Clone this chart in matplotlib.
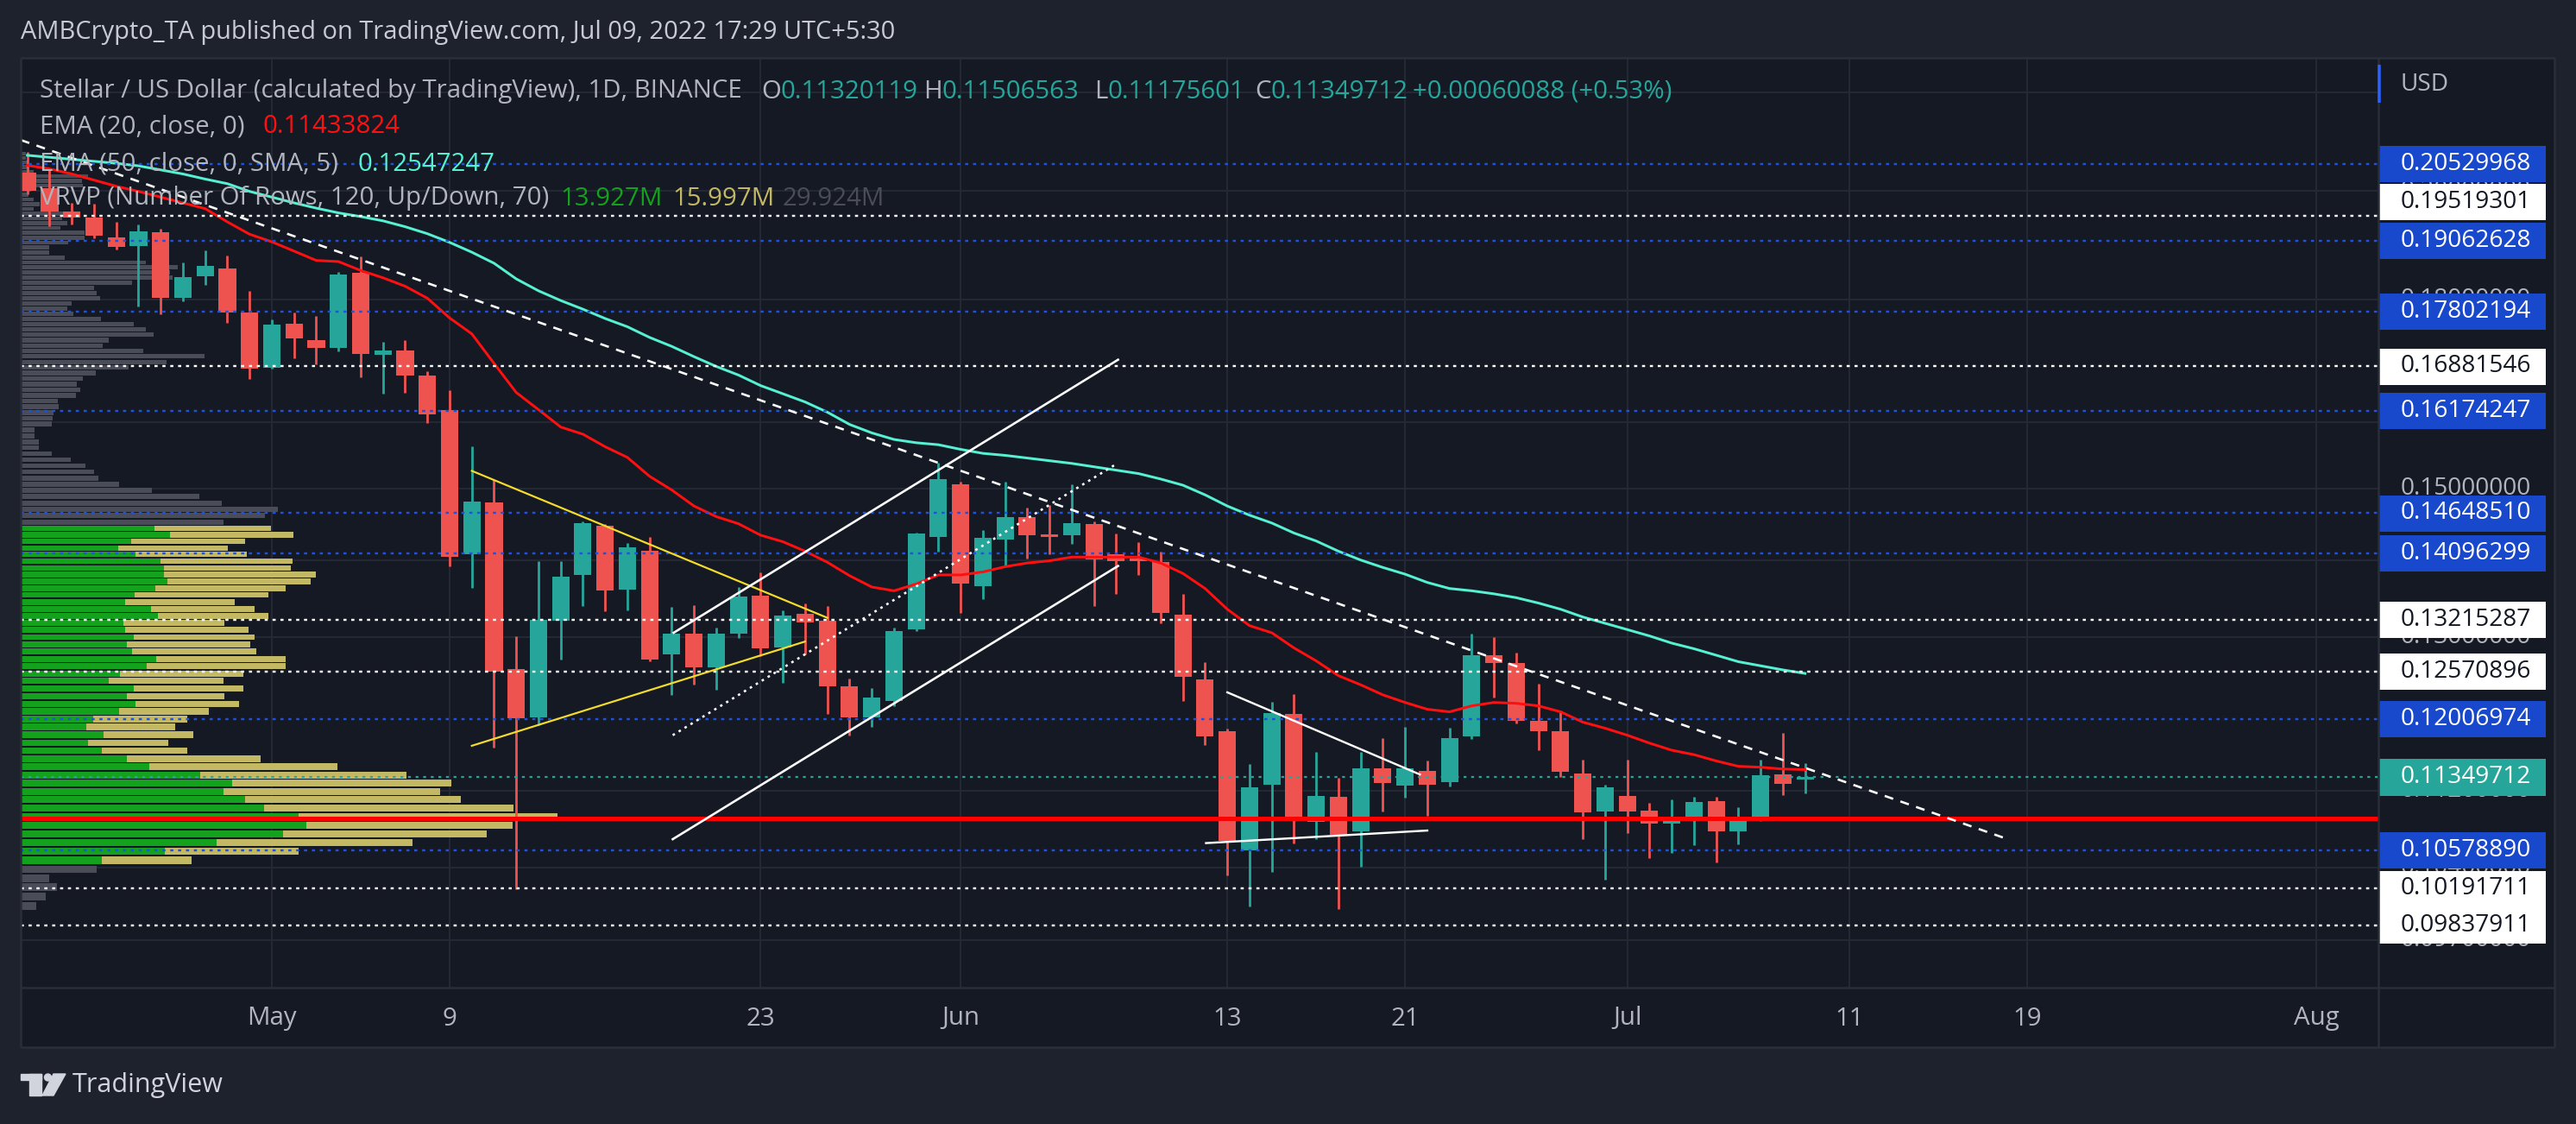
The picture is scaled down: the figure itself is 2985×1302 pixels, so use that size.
import matplotlib
matplotlib.use('Agg')
import matplotlib.pyplot as plt
import matplotlib.dates as mdates
from matplotlib.patches import Rectangle, Circle, Polygon
from matplotlib.transforms import blended_transform_factory
from matplotlib.ticker import FixedLocator, NullLocator
import numpy as np
import pandas as pd

plt.rcParams['font.family'] = ['Open Sans', 'DejaVu Sans']

# ---------------- data ----------------
dates = pd.date_range('2022-04-20', '2022-07-09', freq='D')

opens = [0.2036, 0.2006, 0.1961, 0.1949, 0.1912, 0.1897, 0.1922, 0.1803, 0.1841, 0.1856, 0.1778,
         0.1686, 0.1759, 0.1731, 0.1719, 0.1848, 0.1707, 0.1714, 0.1673, 0.1618, 0.1408, 0.1480,
         0.1260, 0.1203, 0.1320, 0.1380, 0.1447, 0.1360, 0.1412, 0.1278, 0.1304, 0.1262, 0.1304,
         0.1353, 0.1287, 0.1329, 0.1320, 0.1239, 0.1203, 0.1222, 0.1309, 0.1431,
         0.1506, 0.1365, 0.1428, 0.1459, 0.1435, 0.1434, 0.1449, 0.1408, 0.1402, 0.1397, 0.1328,
         0.1248, 0.1187, 0.1058, 0.1127, 0.1207, 0.1087, 0.1114, 0.1077, 0.1145, 0.1126, 0.1142,
         0.1130, 0.1181, 0.1277, 0.1267, 0.1199, 0.1187, 0.1139, 0.1098,
         0.1115, 0.1099, 0.1085, 0.1088, 0.1109, 0.1077, 0.1091, 0.1138, 0.11320119]
highs = [0.2077, 0.2043, 0.1977, 0.1975, 0.1941, 0.1936, 0.1928, 0.1867, 0.1888, 0.1879, 0.1816,
         0.1767, 0.1778, 0.1773, 0.1850, 0.1877, 0.1728, 0.1732, 0.1680, 0.1649, 0.1562, 0.1513,
         0.1301, 0.1398, 0.1399, 0.1453, 0.1449, 0.1423, 0.1431, 0.1338, 0.1340, 0.1311, 0.1364,
         0.1383, 0.1334, 0.1343, 0.1339, 0.1249, 0.1237, 0.1312, 0.1438, 0.1538,
         0.1510, 0.1441, 0.1510, 0.1473, 0.1477, 0.1506, 0.1453, 0.1436, 0.1425, 0.1411, 0.1355,
         0.1268, 0.1190, 0.1150, 0.1221, 0.1230, 0.1163, 0.1134, 0.1163, 0.1179, 0.1192, 0.1153,
         0.1191, 0.1304, 0.1300, 0.1280, 0.1242, 0.1211, 0.1154, 0.1127,
         0.1154, 0.1107, 0.1111, 0.1114, 0.1114, 0.1103, 0.1154, 0.1185, 0.11506563]
lows = [0.1994, 0.1933, 0.1936, 0.1910, 0.1890, 0.1789, 0.1776, 0.1798, 0.1826, 0.1761, 0.1668,
        0.1685, 0.1702, 0.1692, 0.1713, 0.1670, 0.1644, 0.1646, 0.1598, 0.1392, 0.1363, 0.1168,
        0.1019, 0.1194, 0.1272, 0.1339, 0.1333, 0.1334, 0.1270, 0.1229, 0.1241, 0.1235, 0.1298,
        0.1276, 0.1243, 0.1278, 0.1207, 0.1182, 0.1192, 0.1216, 0.1307, 0.1411,
        0.1330, 0.1348, 0.1392, 0.1402, 0.1408, 0.1422, 0.1339, 0.1355, 0.1380, 0.1317, 0.1222,
        0.1171, 0.1032, 0.1002, 0.1036, 0.1065, 0.1069, 0.0999, 0.1041, 0.1098, 0.1113, 0.1093,
        0.1125, 0.1178, 0.1226, 0.1196, 0.1165, 0.1135, 0.1069, 0.1028,
        0.1075, 0.1050, 0.1055, 0.1063, 0.1045, 0.1064, 0.1088, 0.1116, 0.11175601]
closes = [0.2001, 0.1961, 0.1949, 0.1916, 0.1894, 0.1924, 0.1803, 0.1840, 0.1860, 0.1778, 0.1685,
          0.1757, 0.1735, 0.1719, 0.1845, 0.1709, 0.1714, 0.1673, 0.1611, 0.1404, 0.1481, 0.1257,
          0.1202, 0.1321, 0.1378, 0.1451, 0.1359, 0.1417, 0.1272, 0.1304, 0.1262, 0.1304, 0.1352,
          0.1286, 0.1327, 0.1318, 0.1239, 0.1203, 0.1226, 0.1307, 0.1436, 0.1514,
          0.1369, 0.1430, 0.1459, 0.1434, 0.1431, 0.1451, 0.1401, 0.1399, 0.1398, 0.1330, 0.1251,
          0.1181, 0.1067, 0.1124, 0.1208, 0.1091, 0.1115, 0.1074, 0.1145, 0.1129, 0.1145, 0.1127,
          0.1179, 0.1277, 0.1267, 0.1199, 0.1187, 0.1141, 0.1097, 0.1124,
          0.1098, 0.1085, 0.1089, 0.1108, 0.1077, 0.1092, 0.1137, 0.1128, 0.11349712]

ema20 = [0.2050, 0.2043, 0.2033, 0.2021, 0.2009, 0.1999, 0.1988, 0.1977, 0.1966, 0.1941, 0.1918,
         0.1904, 0.1887, 0.1870, 0.1868, 0.1852, 0.1839, 0.1824, 0.1803, 0.1769, 0.1742, 0.1693,
         0.1646, 0.1619, 0.1592, 0.1581, 0.1562, 0.1546, 0.1518, 0.1498, 0.1475, 0.1460, 0.1450,
         0.1434, 0.1425, 0.1412, 0.1397, 0.1379, 0.1364, 0.1359, 0.1368, 0.1380,
         0.1380, 0.1384, 0.1391, 0.1396, 0.1399, 0.1404, 0.1404, 0.1404, 0.1404, 0.1396, 0.1382,
         0.1362, 0.1335, 0.1314, 0.1305, 0.1286, 0.1270, 0.1252, 0.1241, 0.1229, 0.1220, 0.1212,
         0.1209, 0.1216, 0.1220, 0.1219, 0.1216, 0.1209, 0.1197, 0.1190,
         0.1182, 0.1173, 0.1165, 0.1160, 0.1153, 0.1147, 0.1146, 0.1144, 0.11433824]
ema50 = [0.2070, 0.2066, 0.2062, 0.2058, 0.2054, 0.2049, 0.2041, 0.2033, 0.2023, 0.2014, 0.1999,
         0.1988, 0.1977, 0.1967, 0.1958, 0.1951, 0.1943, 0.1932, 0.1919, 0.1903, 0.1885, 0.1865,
         0.1837, 0.1816, 0.1799, 0.1784, 0.1768, 0.1754, 0.1736, 0.1721, 0.1704, 0.1688, 0.1674,
         0.1657, 0.1644, 0.1631, 0.1615, 0.1596, 0.1583, 0.1573, 0.1568, 0.1565,
         0.1558, 0.1552, 0.1549, 0.1545, 0.1541, 0.1537, 0.1532, 0.1527, 0.1522, 0.1514, 0.1505,
         0.1491, 0.1475, 0.1462, 0.1451, 0.1437, 0.1426, 0.1412, 0.1400, 0.1390, 0.1381, 0.1370,
         0.1362, 0.1359, 0.1355, 0.1350, 0.1343, 0.1335, 0.1325, 0.1317,
         0.1309, 0.1301, 0.1292, 0.1285, 0.1277, 0.1269, 0.1264, 0.1259, 0.12547247]

# visible range volume profile (120 rows, bottom -> top), relative volume
vp_low, vp_high, vp_rows = 0.0998, 0.2078, 120
vp_total = [44, 71, 103, 81, 216,
            485, 787, 1110, 1321, 1394, 1522, 1397, 1247, 1188, 1220, 1093, 899, 681, 473, 419,
            490, 439, 473, 534, 618, 578, 632, 574, 632, 750, 750, 669, 652, 662, 647, 578, 703,
            664, 608, 703, 750, 821, 836, 767, 770, 640, 588, 637, 774, 710,
            574, 693, 728, 569, 507, 373, 280, 221, 208, 184, 142, 88, 52, 52, 39, 39, 88, 91, 93,
            108, 106, 157, 169, 160, 177, 213, 306, 414, 520, 348, 233, 250, 378, 356, 321, 228,
            150, 133, 145, 226, 216, 209, 316, 431, 424, 446, 356, 125, 81, 81, 135, 182, 182, 113,
            133, 118, 123, 37, 53, 37, 21, 29, 176, 174, 192, 37, 21, 21, 15, 15]
va_first = 5
vp_up_va = [231, 409, 556, 743, 811, 789, 689, 637, 576, 600, 510, 365, 302, 231, 191, 235, 186,
            206, 280, 326, 302, 321, 250, 282, 358, 385, 316, 302, 321, 297, 292, 390, 370, 297,
            324, 382, 417, 407, 407, 397, 326, 277, 314, 424, 380]
poc_price = 0.1091

blue_levels = [0.20529968, 0.19062628, 0.17802194, 0.16174247, 0.14648510, 0.14096299,
               0.12006974, 0.10578890]
white_levels = [0.19519301, 0.16881546, 0.13215287, 0.12570896, 0.10191711, 0.09837911]
last_price = 0.11349712

axis_labels = [(0.20529968, 'blue'), (0.19519301, 'white'), (0.19062628, 'blue'),
               (0.17802194, 'blue'), (0.16881546, 'white'), (0.16174247, 'blue'),
               (0.14648510, 'blue'), (0.14096299, 'blue'), (0.13215287, 'white'),
               (0.12570896, 'white'), (0.12006974, 'blue'), (0.11349712, 'teal'),
               (0.10578890, 'blue'), (0.10191711, 'white'), (0.09837911, 'white')]

price_ticks = [0.097, 0.104, 0.112, 0.13, 0.14, 0.15, 0.16, 0.18, 0.20, 0.22]
price_tick_labels = ['0.09700000', '0.10400000', '0.11200000', '0.13000000', '',
                     '0.15000000', '0.16000000', '0.18000000', '0.20000000', '']
time_ticks = ['2022-05-01', '2022-05-09', '2022-05-23', '2022-06-01', '2022-06-13',
              '2022-06-21', '2022-07-01', '2022-07-11', '2022-07-19', '2022-08-01']
time_labels = ['May', '9', '23', 'Jun', '13', '21', 'Jul', '11', '19', 'Aug']

# drawings (time, price) pairs
desc_t, desc_p = ['2022-04-19', '2022-07-18'], [0.2112, 0.1070]
yel_up_t, yel_up_p = ['2022-05-10', '2022-05-26'], [0.1526, 0.1324]
yel_lo_t, yel_lo_p = ['2022-05-10', '2022-05-25'], [0.1170, 0.1294]
ch_up_t, ch_up_p = ['2022-05-19 02:00', '2022-06-08 02:00'], [0.1305, 0.1699]
ch_lo_t, ch_lo_p = ['2022-05-19 01:00', '2022-06-08 02:00'], [0.1069, 0.1392]
ch_mid_t, ch_mid_p = ['2022-05-19 01:00', '2022-06-08 00:00'], [0.1182, 0.1536]
jun_up_t, jun_up_p = ['2022-06-13 00:00', '2022-06-21 16:00'], [0.1232, 0.1138]
jun_lo_t, jun_lo_p = ['2022-06-12 01:00', '2022-06-22 00:00'], [0.1065, 0.1078]

# ---------------- styling ----------------
W, H, DPI = 2985, 1302, 100
OUTER = '#1e222d'
PANE = '#151924'
BORDER = '#2a2e39'
GRID = '#242834'
TXT = '#b2b5be'
UP, DN = '#26a69a', '#ef5350'
BLUE_BOX = '#1848cc'
BLUE_LINE = '#1f52e0'
PX_PER_LN = 1198.4      # vertical pixels per unit of ln(price) in this pane
BOX_PX = 42


def pt(px):
    return px * 72.0 / DPI


def tnum(seq):
    return mdates.date2num(pd.to_datetime(seq).to_pydatetime())


fig = plt.figure(figsize=(W / DPI, H / DPI), dpi=DPI, facecolor=OUTER)

bg = fig.add_axes([0, 0, 1, 1], zorder=-10)
bg.set_xlim(0, W)
bg.set_ylim(H, 0)
bg.axis('off')
bg.add_patch(Rectangle((24, 67), 2960 - 24, 1213 - 67, facecolor=PANE, edgecolor='none'))

# main pane
ax = fig.add_axes([24 / W, 1 - 1144 / H, (2756 - 24) / W, (1144 - 67) / H])
ax.set_facecolor(PANE)
ax.set_yscale('log')
for s in ax.spines.values():
    s.set_visible(False)

x = tnum(dates)
o = np.array(opens); h = np.array(highs); l = np.array(lows); c = np.array(closes)
cols = np.where(c >= o, UP, DN)

x_may1 = tnum(['2022-05-01'])[0]

# grid
ax.yaxis.set_major_locator(FixedLocator(price_ticks))
ax.yaxis.set_minor_locator(NullLocator())
ax.xaxis.set_major_locator(FixedLocator(tnum(time_ticks)))
ax.xaxis.set_minor_locator(NullLocator())
ax.tick_params(length=0, labelbottom=False, labelleft=False)
ax.grid(True, color=GRID, lw=pt(2), zorder=0)
ax.set_axisbelow(True)

# volume profile
trans_vp = blended_transform_factory(ax.transAxes, ax.transData)
step = (vp_high - vp_low) / vp_rows
centers = vp_low + step * (np.arange(vp_rows) + 0.5)
tot = np.array(vp_total, dtype=float)
scale = (622.0 / 2732.0) / tot.max()
idx = np.arange(vp_rows)
va_mask = (idx >= va_first) & (idx < va_first + len(vp_up_va))
up = np.array(vp_up_va, dtype=float)
ax.barh(centers[~va_mask], tot[~va_mask] * scale, left=0, height=step * 0.82,
        color='#4a4d57', transform=trans_vp, zorder=1)
ax.barh(centers[va_mask], up * scale, left=0, height=step * 0.82,
        color='#14a11e', transform=trans_vp, zorder=1)
ax.barh(centers[va_mask], (tot[va_mask] - up) * scale, left=up * scale, height=step * 0.82,
        color='#c3b964', transform=trans_vp, zorder=1)

# candles
ax.vlines(x, l, h, colors=cols, lw=pt(2.8), zorder=2.9)
body_b = np.minimum(o, c)
body_h = np.maximum(np.abs(c - o), body_b * 0.0018)
ax.bar(x, body_h, bottom=body_b, width=0.78, color=cols, zorder=3)

# moving averages
ax.plot(x, ema20, color='#ff1010', lw=pt(3), zorder=4)
ax.plot(x, ema50, color='#56f0d2', lw=pt(3), zorder=4)

# horizontal levels
for p in blue_levels:
    ax.axhline(p, color=BLUE_LINE, lw=pt(2.4), ls=(0, (1.5, 2.3)), dash_capstyle='butt', zorder=5)
for p in white_levels:
    ax.axhline(p, color='white', lw=pt(2.4), ls=(0, (1.5, 2.3)), dash_capstyle='butt', zorder=5)
ax.axhline(last_price, color=UP, lw=pt(2.2), ls=(0, (1.5, 2.5)), dash_capstyle='butt', zorder=5)
ax.axhline(poc_price, color='#ff0000', lw=pt(5), zorder=5.5)

# trend drawings
ax.plot(tnum(desc_t), desc_p, color='white', lw=pt(2.6), ls=(0, (4, 3.4)), zorder=6)
ax.plot(tnum(yel_up_t), yel_up_p, color='#f3dc2c', lw=pt(2.2), zorder=6)
ax.plot(tnum(yel_lo_t), yel_lo_p, color='#f3dc2c', lw=pt(2.2), zorder=6)
ax.plot(tnum(ch_up_t), ch_up_p, color='white', lw=pt(2.6), zorder=6)
ax.plot(tnum(ch_lo_t), ch_lo_p, color='white', lw=pt(2.6), zorder=6)
ax.plot(tnum(ch_mid_t), ch_mid_p, color='white', lw=pt(2.6), ls=(0, (1.1, 2.0)), zorder=6)
ax.plot(tnum(jun_up_t), jun_up_p, color='white', lw=pt(2.4), zorder=6)
ax.plot(tnum(jun_lo_t), jun_lo_p, color='white', lw=pt(2.4), zorder=6)

ax.set_xlim(x_may1 - 11.30, x_may1 + 94.80)
ax.set_ylim(0.09262, 0.22744)

# price scale axes
ax_r = fig.add_axes([2756 / W, 1 - 1144 / H, (2960 - 2756) / W, (1144 - 67) / H], sharey=ax)
ax_r.set_xlim(0, 204)
ax_r.axis('off')

# overlay in pixel coordinates
ov = fig.add_axes([0, 0, 1, 1], zorder=10)
ov.set_xlim(0, W)
ov.set_ylim(H, 0)
ov.axis('off')

renderer = fig.canvas.get_renderer()


def measure(s, size):
    t = ov.text(0, 0, s, fontsize=size)
    w = t.get_window_extent(renderer=renderer).width
    t.remove()
    return w


title1 = 'Stellar / US Dollar (calculated by TradingView), 1D, BINANCE'
S = 20 * 813.0 / measure(title1, 20)
SP = 20 * 151.0 / measure('0.13215287', 20)
header = 'AMBCrypto_TA published on TradingView.com, Jul 09, 2022 17:29 UTC+5:30'
SH = 20 * 1010.0 / measure(header, 20)

# price scale labels (grey scale ticks underneath, level labels on top)
for p, lab in zip(price_ticks, price_tick_labels):
    if lab:
        ax_r.text(26, p, lab, color=TXT, fontsize=SP, ha='left', va='center', zorder=1)

# place level labels: a label colliding with the one below it is centred
# between its upper neighbour and the lower one when there is room
lv = np.log([p for p, _ in axis_labels])
pos = lv.copy()
sep = BOX_PX / PX_PER_LN
for i in range(1, len(lv) - 1):
    if (pos[i] - lv[i + 1]) < sep and (pos[i - 1] - lv[i + 1]) >= 2 * sep - 1e-4:
        pos[i] = 0.5 * (pos[i - 1] + lv[i + 1])
box_fc = {'blue': BLUE_BOX, 'white': '#ffffff', 'teal': UP}
box_tc = {'blue': '#ffffff', 'white': '#131722', 'teal': '#ffffff'}
for (p, kind), lp in zip(axis_labels, pos):
    py = np.exp(lp)
    ax_r.barh(py, 194, left=0, height=py * (2 * np.sinh(BOX_PX / 2 / PX_PER_LN)),
              color=box_fc[kind], zorder=2)
    ax_r.text(26, py, '%.8f' % p, color=box_tc[kind], fontsize=SP, ha='left', va='center',
              zorder=3)
ax.set_ylim(0.09262, 0.22744)

# time labels
tb = blended_transform_factory(ax.transData, ax.transAxes)
for t, lab in zip(tnum(time_ticks), time_labels):
    ax.text(t, -(1180 - 1144) / (1144 - 67), lab, transform=tb, color=TXT, fontsize=S,
            ha='center', va='center', clip_on=False)

# borders
for (xs, ys) in [([24, 2960], [67, 67]), ([24, 2960], [1144, 1144]), ([24, 2960], [1213, 1213]),
                 ([24, 24], [67, 1213]), ([2756, 2756], [67, 1213]), ([2960, 2960], [67, 1213])]:
    ov.plot(xs, ys, color=BORDER, lw=pt(2.5), solid_capstyle='butt')
ov.plot([2757, 2757], [75, 119], color='#2962ff', lw=pt(3.5), solid_capstyle='butt')

# header & legend
ov.text(24.5, 38, header, color='#c8cbd3', fontsize=SH, ha='left', va='center')
ov.text(2782, 98, 'USD', color=TXT, fontsize=SP, ha='left', va='center')


def put_row(items, y):
    xc = 0
    for s, col, xs in items:
        if xs is not None:
            xc = xs
        t = ov.text(xc, y, s, color=col, fontsize=S, ha='left', va='center')
        xc += t.get_window_extent(renderer=renderer).width


put_row([(title1, TXT, 45.6), ('O', TXT, 882), ('0.11320119', UP, None),
         ('H', TXT, 1070), ('0.11506563', UP, None), ('L', TXT, 1268), ('0.11175601', UP, None),
         ('C', TXT, 1454), ('0.11349712', UP, None), ('+0.00060088 (+0.53%)', UP, 1637)], 106)
put_row([('EMA (20, close, 0)', TXT, 45.6), ('0.11433824', '#ff1010', 305)], 147)
put_row([('EMA (50, close, 0, SMA, 5)', TXT, 45.6), ('0.12547247', '#56f0d2', 415)], 190)
put_row([('VRVP (Number Of Rows, 120, Up/Down, 70)', TXT, 45.6), ('13.927M', '#14a11e', 649),
         ('15.997M', '#c3b964', 779), ('29.924M', '#4a4d57', 906)], 230)

# TradingView logo
LOGO = '#d1d4dc'
ov.add_patch(Rectangle((24, 1244), 24, 7, color=LOGO))
ov.add_patch(Rectangle((34, 1244), 14, 25, color=LOGO))
ov.add_patch(Circle((55.5, 1248), 4, color=LOGO))
ov.add_patch(Polygon([[62, 1244], [76, 1244], [62, 1269], [49, 1269]], closed=True, color=LOGO))
ST = 20 * 174.0 / measure('TradingView', 20)
ov.text(84, 1257, 'TradingView', color=LOGO, fontsize=ST, ha='left', va='center')

fig.savefig('out.png', dpi=DPI, facecolor=OUTER)
